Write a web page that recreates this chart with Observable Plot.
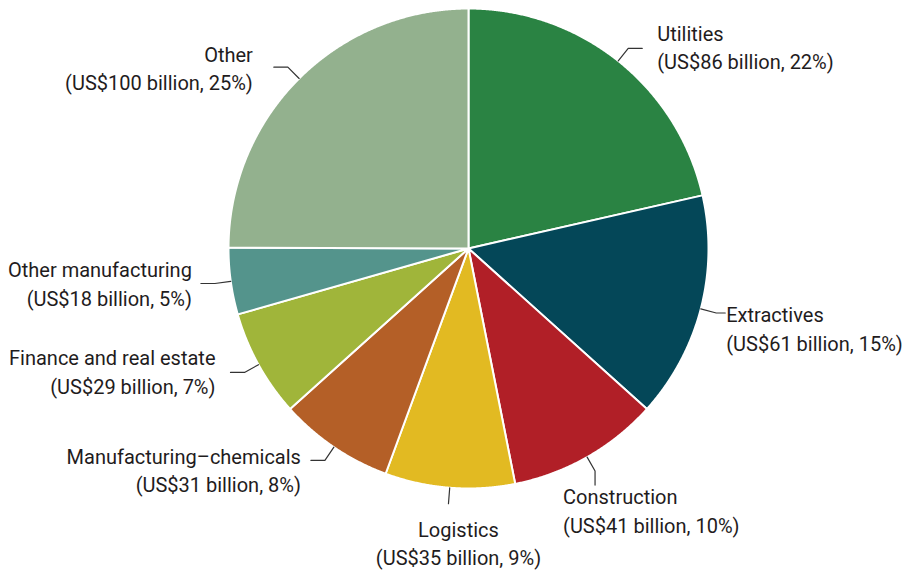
<!DOCTYPE html>
<html><head><meta charset="utf-8">
<script src="https://cdn.jsdelivr.net/npm/d3@7"></script>
<script src="https://cdn.jsdelivr.net/npm/@observablehq/plot@0.6"></script>
<style>body{margin:0;background:#fff}</style>
</head><body><div id="chart"></div>
<script>
const categories = ["Utilities","Extractives","Construction","Logistics","Manufacturing–chemicals","Finance and real estate","Other manufacturing","Other"];
const values = [86,61,41,35,31,29,18,100];
const valueLabels = ["(US$86 billion, 22%)","(US$61 billion, 15%)","(US$41 billion, 10%)","(US$35 billion, 9%)","(US$31 billion, 8%)","(US$29 billion, 7%)","(US$18 billion, 5%)","(US$100 billion, 25%)"];
const colors = ["#2a8343","#044758","#b11f27","#e2ba22","#b45f27","#a0b53a","#54948c","#93b18e"];

// layout (pixels)
const W = 905, H = 571, CX = 468, CY = 248, R = 240;
const labelLayout = [
  {lead: "h", len: 14, anchor: "start", dx: 15, dy: -2.5},
  {lead: "h", len: 9, anchor: "start", dx: 1, dy: 14.5},
  {lead: "v", len: 14, anchor: "start", dx: -32, dy: 24.5},
  {lead: "v", len: 0, anchor: "middle", dx: 10, dy: 38},
  {lead: "h", len: 14, anchor: "end", dx: -10, dy: 8.5},
  {lead: "h", len: 14, anchor: "end", dx: -15, dy: -2},
  {lead: "h", len: 14, anchor: "end", dx: -9, dy: -1},
  {lead: "h", len: 14, anchor: "end", dx: -21, dy: -0.5}
];

const arcs = d3.pie().sort(null).value((d, i) => values[i])(categories);
const pt = (a, r) => ({x: r * Math.sin(a), y: -r * Math.cos(a)});

const slicePts = [];
arcs.forEach(a => {
  slicePts.push({cat: a.data, x: 0, y: 0});
  const n = Math.max(2, Math.ceil((a.endAngle - a.startAngle) / (Math.PI / 720)));
  for (let k = 0; k <= n; k++) {
    const t = a.startAngle + (a.endAngle - a.startAngle) * k / n;
    slicePts.push({cat: a.data, ...pt(t, R)});
  }
});

const leaders = [], labels = [];
arcs.forEach((a, i) => {
  const L = labelLayout[i];
  const m = (a.startAngle + a.endAngle) / 2;
  const p0 = pt(m, R), p1 = pt(m, R + 16);
  const p2 = L.lead === "h"
    ? {x: p1.x + (p1.x >= 0 ? L.len : -L.len), y: p1.y}
    : {x: p1.x, y: p1.y + L.len};
  [p0, p1, p2].forEach(p => leaders.push({cat: a.data, ...p}));
  labels.push({cat: a.data, anchor: L.anchor, x: p2.x + L.dx, y: p2.y + L.dy,
    text: categories[i] + "\n" + valueLabels[i]});
});

const textOpts = {x: "x", y: "y", text: "text", fontSize: 20, lineHeight: 1.42, fill: "#1f1c1d"};

const chart = Plot.plot({
  width: W, height: H,
  margin: 0,
  x: {domain: [-CX, W - CX], range: [0, W], axis: null},
  y: {domain: [-CY, H - CY], range: [0, H], axis: null},
  color: {domain: categories, range: colors},
  style: {fontFamily: "Roboto, sans-serif", background: "#fff"},
  marks: [
    Plot.line(slicePts, {x: "x", y: "y", z: "cat", fill: "cat", stroke: "#fff", strokeWidth: 2, curve: "linear-closed"}),
    Plot.line(leaders, {x: "x", y: "y", z: "cat", stroke: "#333", strokeWidth: 1.2}),
    Plot.text(labels.filter(d => d.anchor === "start"), {...textOpts, textAnchor: "start"}),
    Plot.text(labels.filter(d => d.anchor === "middle"), {...textOpts, textAnchor: "middle"}),
    Plot.text(labels.filter(d => d.anchor === "end"), {...textOpts, textAnchor: "end"})
  ]
});
document.getElementById("chart").appendChild(chart);
</script>
</body></html>
